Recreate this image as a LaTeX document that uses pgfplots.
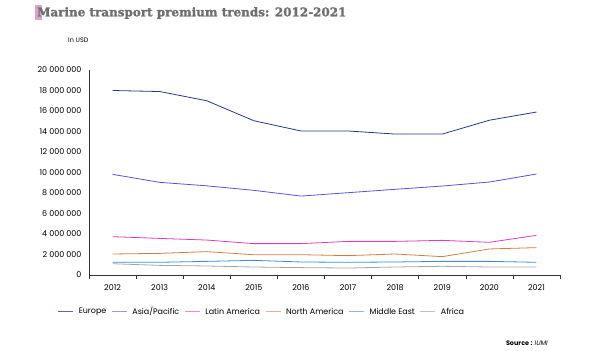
\documentclass[border=0pt]{standalone}
\usepackage{fontspec}
\setmainfont{Poppins}
\newfontfamily\titlefont{DejaVu Serif Bold}[FakeBold=1.5]
\usepackage{pgfplots}
\pgfplotsset{compat=1.18}
\definecolor{ceur}{HTML}{233C78}
\definecolor{casia}{HTML}{5454D4}
\definecolor{clat}{HTML}{E03CB4}
\definecolor{cna}{HTML}{D27E44}
\definecolor{cme}{HTML}{3490DC}
\definecolor{caf}{HTML}{A6A6A6}
\definecolor{ctitle}{HTML}{6E6E6E}
\definecolor{cmark}{HTML}{D9A6C9}
\begin{document}
\begin{tikzpicture}[x=1bp,y=1bp]
\useasboundingbox (0,0) rectangle (600,350);
\fill[cmark] (35,330) rectangle (42,345);
\node[anchor=west,text=ctitle,inner sep=0] at (37,337) {\titlefont\fontsize{12}{14}\selectfont Marine transport premium trends: 2012-2021};
\node[anchor=west,inner sep=0] at (68,310) {\fontsize{6.5}{8}\selectfont In USD};
\node[anchor=east,inner sep=0] at (548,7) {\fontsize{6.5}{8}\selectfont\textbf{Source :} \textit{IUMI}};
\begin{axis}[
  at={(89bp,75bp)}, anchor=south west,
  scale only axis, width=471bp, height=205bp,
  xmin=-0.5, xmax=9.5, ymin=0, ymax=20000000,
  axis lines*=left,
  axis line style={line width=0.6pt, black!80},
  xtick={0,...,9},
  xticklabels={2012,2013,2014,2015,2016,2017,2018,2019,2020,2021},
  extra x ticks={-0.5,0.5,...,9.5},
  extra x tick labels={},
  extra x tick style={major tick length=4bp, tick align=outside, tick style={black!80, line width=0.6pt}},
  ytick={0,2000000,...,20000000},
  scaled y ticks=false,
  major tick length=0pt,
  yticklabel style={xshift=-4bp, /pgf/number format/.cd, fixed, 1000 sep={\ }, assume math mode=true},
  ticklabel style={font=\fontsize{8}{9}\selectfont},
  xticklabel style={yshift=-6bp},
  legend columns=6,
  legend style={at={(0.367,-0.18)}, anchor=center, draw=none, fill=none,
    font=\fontsize{8}{9}\selectfont, column sep=3bp},
  legend image code/.code={\draw[#1] (0bp,0bp) -- (15bp,0bp);},
  every axis plot/.append style={line width=0.8pt},
]
\addplot[color=ceur, forget plot] coordinates {(0,18000000)(1,17900000)(2,17000000)(3,15050000)(4,14050000)(5,14050000)(6,13750000)(7,13750000)(8,15100000)(9,15900000)};
\addplot[color=casia, forget plot] coordinates {(0,9820000)(1,9040000)(2,8700000)(3,8260000)(4,7700000)(5,8030000)(6,8360000)(7,8680000)(8,9070000)(9,9850000)};
\addplot[color=clat, forget plot] coordinates {(0,3740000)(1,3570000)(2,3410000)(3,3060000)(4,3060000)(5,3280000)(6,3280000)(7,3380000)(8,3190000)(9,3870000)};
\addplot[color=cna, forget plot] coordinates {(0,2050000)(1,2110000)(2,2280000)(3,1980000)(4,1980000)(5,1890000)(6,2050000)(7,1790000)(8,2540000)(9,2670000)};
\addplot[color=cme, forget plot] coordinates {(0,1240000)(1,1240000)(2,1330000)(3,1430000)(4,1270000)(5,1240000)(6,1270000)(7,1330000)(8,1330000)(9,1240000)};
\addplot[color=caf, forget plot] coordinates {(0,1100000)(1,940000)(2,880000)(3,780000)(4,720000)(5,680000)(6,780000)(7,850000)(8,780000)(9,780000)};
\addlegendimage{color=ceur!75, line width=1.1pt}
\addlegendentry{Europe}
\addlegendimage{color=casia!60, line width=1.1pt}
\addlegendentry{Asia/Pacific}
\addlegendimage{color=clat!60, line width=1.1pt}
\addlegendentry{Latin America}
\addlegendimage{color=cna!60, line width=1.1pt}
\addlegendentry{North America}
\addlegendimage{color=cme!60, line width=1.1pt}
\addlegendentry{Middle East}
\addlegendimage{color=caf!70, line width=1.1pt}
\addlegendentry{Africa}
\end{axis}
\end{tikzpicture}
\end{document}
